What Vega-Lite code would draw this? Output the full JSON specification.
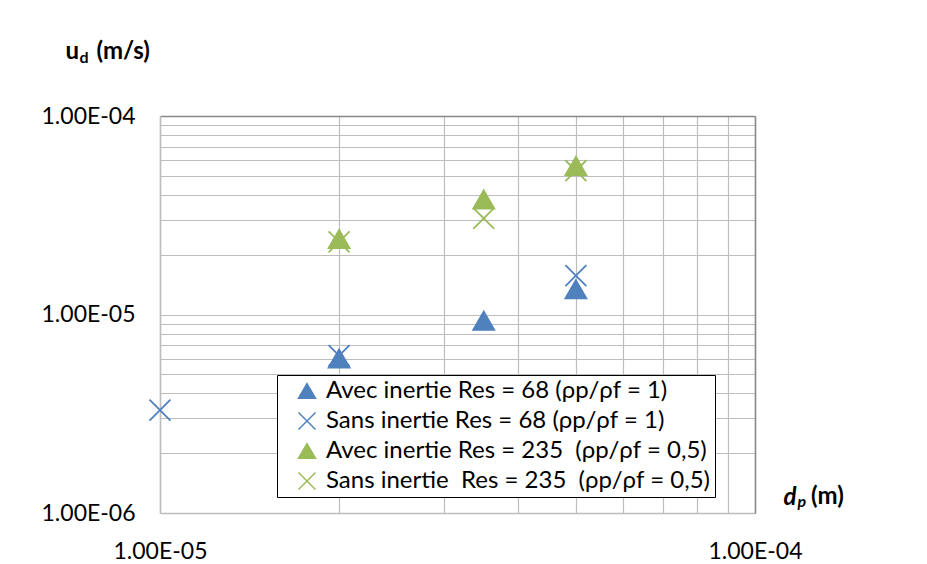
{
  "$schema": "https://vega.github.io/schema/vega-lite/v6.json",
  "autosize": {"type": "none"},
  "padding": {"left": 160, "top": 116, "right": 172, "bottom": 51},
  "width": 595,
  "height": 397,
  "background": "white",
  "title": {
    "text": "(m)",
    "orient": "top",
    "anchor": "start",
    "frame": "group",
    "font": "Lato",
    "fontSize": 24,
    "fontWeight": "bold",
    "color": "black",
    "baseline": "alphabetic",
    "offset": 0,
    "dx": 651,
    "dy": 489
  },
  "config": {
    "view": {"stroke": null},
    "font": "Lato",
    "axis": {"labelFont": "Lato", "titleFont": "Lato", "ticks": false},
    "legend": {"labelFont": "Lato"}
  },
  "data": {
    "values": [
      {"dp": 2e-5, "ud": 6.0e-6, "series": "Avec inertie Res = 68 (ρp/ρf = 1)"},
      {"dp": 3.5e-5, "ud": 9.3e-6, "series": "Avec inertie Res = 68 (ρp/ρf = 1)"},
      {"dp": 5e-5, "ud": 1.34e-5, "series": "Avec inertie Res = 68 (ρp/ρf = 1)"},
      {"dp": 1e-5, "ud": 3.3e-6, "series": "Sans inertie Res = 68 (ρp/ρf = 1)"},
      {"dp": 2e-5, "ud": 6.2e-6, "series": "Sans inertie Res = 68 (ρp/ρf = 1)"},
      {"dp": 5e-5, "ud": 1.57e-5, "series": "Sans inertie Res = 68 (ρp/ρf = 1)"},
      {"dp": 2e-5, "ud": 2.4e-5, "series": "Avec inertie Res = 235 \u00a0(ρp/ρf = 0,5)"},
      {"dp": 3.5e-5, "ud": 3.8e-5, "series": "Avec inertie Res = 235 \u00a0(ρp/ρf = 0,5)"},
      {"dp": 5e-5, "ud": 5.6e-5, "series": "Avec inertie Res = 235 \u00a0(ρp/ρf = 0,5)"},
      {"dp": 2e-5, "ud": 2.32e-5, "series": "Sans inertie \u00a0Res = 235 \u00a0(ρp/ρf = 0,5)"},
      {"dp": 3.5e-5, "ud": 3.05e-5, "series": "Sans inertie \u00a0Res = 235 \u00a0(ρp/ρf = 0,5)"},
      {"dp": 5e-5, "ud": 5.3e-5, "series": "Sans inertie \u00a0Res = 235 \u00a0(ρp/ρf = 0,5)"}
    ]
  },
  "layer": [
    {
      "mark": {"type": "point", "filled": true, "opacity": 1, "strokeWidth": 1.8, "size": 440, "clip": false},
      "encoding": {
        "x": {
          "field": "dp", "type": "quantitative",
          "scale": {"type": "log", "domain": [1e-5, 1e-4], "nice": false},
          "axis": {
            "values": [1e-5, 2e-5, 3e-5, 4e-5, 5e-5, 6e-5, 7e-5, 8e-5, 9e-5, 1e-4],
            "labelExpr": "datum.value < 1.5e-5 ? '1.00E-05' : (datum.value > 9.5e-5 ? '1.00E-04' : '')",
            "labelOverlap": false, "labelFlush": false,
            "labelFontSize": 23, "labelColor": "black", "labelPadding": 27,
            "grid": true, "gridColor": "#bdbdbd", "gridWidth": 1.2,
            "domain": true, "domainColor": "#bdbdbd", "domainWidth": 1.5,
            "title": "d", "titleFontSize": 24, "titleFontWeight": "bold", "titleFontStyle": "italic",
            "titleColor": "black", "titleAlign": "left", "titleBaseline": "alphabetic", "titleAngle": 0,
            "titleX": 623, "titleY": -9
          }
        },
        "y": {
          "field": "ud", "type": "quantitative",
          "scale": {"type": "log", "domain": [1e-6, 1e-4], "nice": false},
          "axis": {
            "values": [1e-6, 2e-6, 3e-6, 4e-6, 5e-6, 6e-6, 7e-6, 8e-6, 9e-6, 1e-5, 2e-5, 3e-5, 4e-5, 5e-5, 6e-5, 7e-5, 8e-5, 9e-5, 1e-4],
            "labelExpr": "datum.value < 1.5e-6 ? '1.00E-06' : ((datum.value > 9.5e-6 && datum.value < 1.5e-5) ? '1.00E-05' : (datum.value > 9.5e-5 ? '1.00E-04' : ''))",
            "labelOverlap": false, "labelFlush": false,
            "labelFontSize": 23, "labelColor": "black", "labelPadding": 25,
            "grid": true, "gridColor": "#bdbdbd", "gridWidth": 1.2,
            "domain": true, "domainColor": "#bdbdbd", "domainWidth": 1.5,
            "title": "u\u00a0\u00a0\u00a0(m/s)", "titleFontSize": 24, "titleFontWeight": "bold",
            "titleColor": "black", "titleAlign": "left", "titleBaseline": "alphabetic", "titleAngle": 0,
            "titleX": -95, "titleY": -58
          }
        },
        "shape": {
          "field": "series", "type": "nominal",
          "scale": {
            "domain": ["Avec inertie Res = 68 (ρp/ρf = 1)", "Sans inertie Res = 68 (ρp/ρf = 1)", "Avec inertie Res = 235 \u00a0(ρp/ρf = 0,5)", "Sans inertie \u00a0Res = 235 \u00a0(ρp/ρf = 0,5)"],
            "range": ["triangle-up", "M-1,-1L1,1M-1,1L1,-1", "triangle-up", "M-1,-1L1,1M-1,1L1,-1"]
          },
          "legend": {
            "orient": "none", "legendX": 117, "legendY": 259, "title": null,
            "labelFontSize": 24, "labelColor": "black", "labelLimit": 600,
            "symbolSize": 289, "symbolStrokeWidth": 1.5, "symbolOffset": 14, "labelOffset": 7,
            "rowPadding": 6, "padding": 4,
            "strokeColor": "black", "fillColor": "white"
          }
        },
        "color": {
          "field": "series", "type": "nominal",
          "scale": {
            "domain": ["Avec inertie Res = 68 (ρp/ρf = 1)", "Sans inertie Res = 68 (ρp/ρf = 1)", "Avec inertie Res = 235 \u00a0(ρp/ρf = 0,5)", "Sans inertie \u00a0Res = 235 \u00a0(ρp/ρf = 0,5)"],
            "range": ["#4f81bd", "#4f81bd", "#9bbb59", "#9bbb59"]
          }
        },
        "stroke": {
          "field": "series", "type": "nominal",
          "scale": {
            "domain": ["Avec inertie Res = 68 (ρp/ρf = 1)", "Sans inertie Res = 68 (ρp/ρf = 1)", "Avec inertie Res = 235 \u00a0(ρp/ρf = 0,5)", "Sans inertie \u00a0Res = 235 \u00a0(ρp/ρf = 0,5)"],
            "range": ["#4f81bd", "#4f81bd", "#9bbb59", "#9bbb59"]
          }
        }
      }
    },
    {
      "mark": {"type": "point", "opacity": 0},
      "encoding": {
        "x": {
          "field": "dp", "type": "quantitative",
          "scale": {"type": "log", "domain": [1e-5, 1e-4], "nice": false},
          "axis": {
            "orient": "top", "labels": false, "grid": false, "ticks": false,
            "domain": true, "domainColor": "#888888", "domainWidth": 1.5,
            "title": "p", "titleFontSize": 16, "titleFontWeight": "bold", "titleFontStyle": "italic",
            "titleColor": "black", "titleAlign": "left", "titleBaseline": "alphabetic", "titleAngle": 0,
            "titleX": 637, "titleY": 390
          }
        },
        "y": {
          "field": "ud", "type": "quantitative",
          "scale": {"type": "log", "domain": [1e-6, 1e-4], "nice": false},
          "axis": {
            "orient": "right", "labels": false, "grid": false, "ticks": false,
            "domain": true, "domainColor": "#888888", "domainWidth": 1.5,
            "title": "d", "titleFontSize": 16, "titleFontWeight": "bold",
            "titleColor": "black", "titleAlign": "left", "titleBaseline": "alphabetic", "titleAngle": 0,
            "titleX": -676, "titleY": -54
          }
        }
      }
    }
  ],
  "resolve": {"axis": {"x": "independent", "y": "independent"}}
}
